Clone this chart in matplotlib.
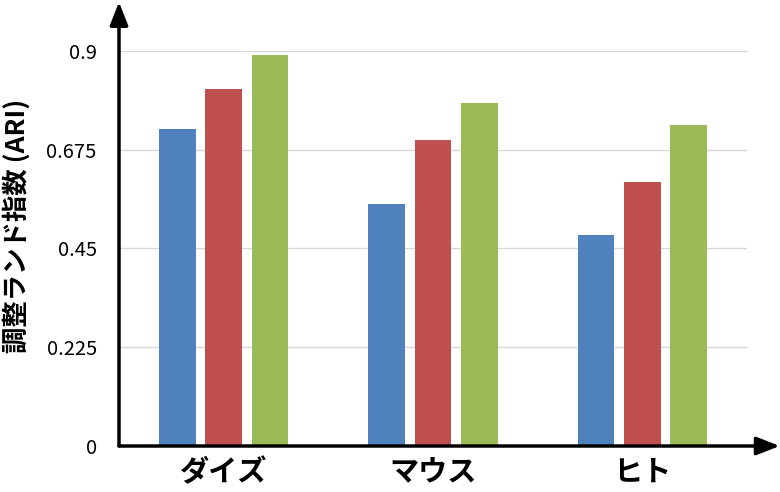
import matplotlib
matplotlib.use("Agg")
import matplotlib.pyplot as plt
import numpy as np

plt.rcParams['font.family'] = ['Noto Sans CJK JP', 'DejaVu Sans']

# データ
categories = ["ダイズ", "マウス", "ヒト"]
series_a = [0.722, 0.552, 0.481]   # 青
series_b = [0.814, 0.697, 0.602]   # 赤
series_c = [0.890, 0.781, 0.732]   # 緑
y_ticks = [0, 0.225, 0.45, 0.675, 0.9]
y_tick_labels = ["0", "0.225", "0.45", "0.675", "0.9"]

colors = ["#4F81BD", "#C0504D", "#9BBB59"]

fig = plt.figure(figsize=(7.8, 4.92), dpi=100)
ax = fig.add_axes([119/780, 46/492, 628/780, 395/492])

x = np.arange(len(categories))
pitch = 0.2214
width = 0.176
for i, (vals, c) in enumerate(zip([series_a, series_b, series_c], colors)):
	ax.bar(x + (i - 1) * pitch, vals, width, color=c, zorder=3)

ax.set_xlim(-0.5, 2.5)
ax.set_ylim(0, 0.9)
ax.set_yticks(y_ticks)
ax.set_yticklabels(y_tick_labels, fontsize=14.5)
ax.set_xticks(x)
ax.set_xticklabels(categories, fontsize=21, fontweight="bold")
ax.tick_params(axis="y", length=0, pad=16)
ax.tick_params(axis="x", length=0, pad=8)
ax.yaxis.grid(True, color="#D9D9D9", linewidth=1, zorder=0)
ax.set_axisbelow(True)
for s in ax.spines.values():
	s.set_visible(False)

ax.set_ylabel("調整ランド指数 (ARI)", fontsize=19, fontweight="bold")
ax.yaxis.set_label_coords(-0.141, 0.557)

# 矢印付きの軸
ax.annotate("", xy=(1.052, 0), xytext=(0, 0), xycoords="axes fraction",
	arrowprops=dict(arrowstyle="-|>,head_length=1.4,head_width=0.55", color="black", lw=2.5,
	shrinkA=0, shrinkB=0), annotation_clip=False)
ax.annotate("", xy=(0, 1.124), xytext=(0, 0), xycoords="axes fraction",
	arrowprops=dict(arrowstyle="-|>,head_length=1.4,head_width=0.55", color="black", lw=2.5,
	shrinkA=0, shrinkB=0), annotation_clip=False)

fig.savefig("out.png", dpi=100)
